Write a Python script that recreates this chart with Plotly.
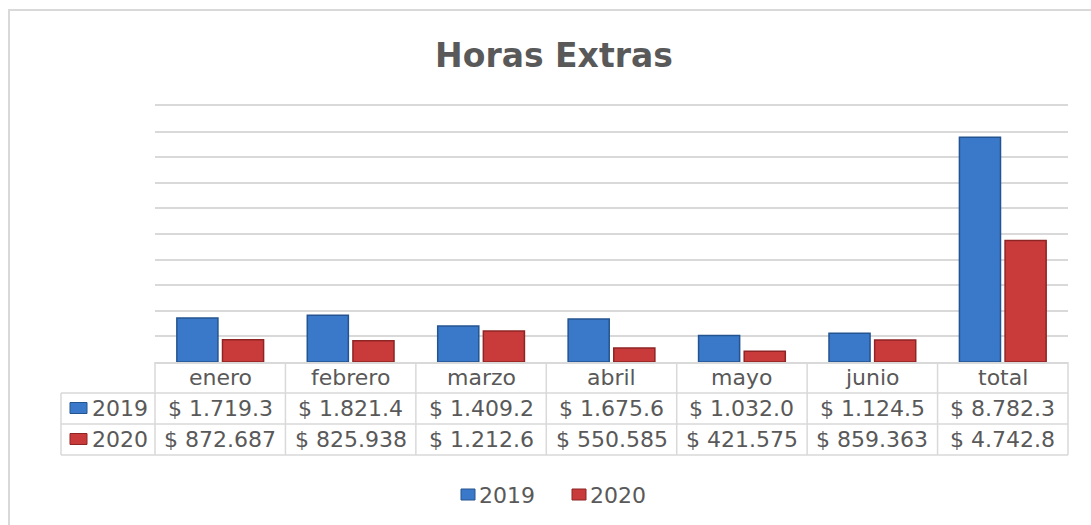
import plotly.graph_objects as go

W, H = 1091, 525

categories = ["enero", "febrero", "marzo", "abril", "mayo", "junio", "total"]
series_names = ["2019", "2020"]
# values in thousands of pesos
values_2019 = [1719.3, 1821.4, 1409.2, 1675.6, 1032.0, 1124.5, 8782.3]
values_2020 = [872.687, 825.938, 1212.6, 550.585, 421.575, 859.363, 4742.8]

colors = {"2019": "#3a78c9", "2020": "#c93b3b"}
edges = {"2019": "#24548f", "2020": "#8e2424"}
grid_color = "#d9d9d9"
text_color = "#595959"
font_family = "DejaVu Sans, sans-serif"


def px_x(p):
    return p / W


def px_y(p):
    return 1 - p / H


def fmt(v):
    if v >= 1000:
        return f"$ {int(v // 1000)}.{v % 1000:05.1f}"
    return f"$ {v:.3f}"


fig = go.Figure()
for name, vals in zip(series_names, [values_2019, values_2020]):
    fig.add_trace(go.Bar(
        x=categories,
        y=vals,
        name=name,
        marker=dict(color=colors[name], line=dict(color=edges[name], width=1.5)),
        showlegend=False,
    ))

# plot area / table geometry (pixels)
left, right = 155, 1068
top, base = 106, 362
row_h = 31
table_left = 61
col_w = (right - left) / len(categories)

shapes = []
# chart border
shapes.append(dict(type="rect", xref="paper", yref="paper",
                   x0=px_x(9), x1=1.05, y0=-0.05, y1=px_y(10),
                   line=dict(color="#d9d9d9", width=2)))
# horizontal table lines
for r in range(1, 4):
    yy = px_y(base + r * row_h)
    shapes.append(dict(type="line", xref="paper", yref="paper",
                       x0=px_x(table_left), x1=px_x(right), y0=yy, y1=yy,
                       line=dict(color=grid_color, width=1.5)))
# vertical table lines
for c in range(len(categories) + 1):
    xx = px_x(left + c * col_w)
    shapes.append(dict(type="line", xref="paper", yref="paper",
                       x0=xx, x1=xx, y0=px_y(base), y1=px_y(base + 3 * row_h),
                       line=dict(color=grid_color, width=1.5)))
shapes.append(dict(type="line", xref="paper", yref="paper",
                   x0=px_x(table_left), x1=px_x(table_left),
                   y0=px_y(base + row_h), y1=px_y(base + 3 * row_h),
                   line=dict(color=grid_color, width=1.5)))

cell_font = dict(size=22, color=text_color, family=font_family)
annotations = []
# header row
for cat in categories:
    annotations.append(dict(x=cat, xref="x", y=px_y(base + row_h / 2), yref="paper",
                            text=cat, showarrow=False, xanchor="center", yanchor="middle",
                            font=cell_font))
# value rows with legend keys
for r, (name, vals) in enumerate(zip(series_names, [values_2019, values_2020])):
    yc = base + row_h * (r + 1.5)
    shapes.append(dict(type="rect", xref="paper", yref="paper",
                       x0=px_x(70), x1=px_x(87), y0=px_y(yc + 5), y1=px_y(yc - 6),
                       fillcolor=colors[name], line=dict(color=edges[name], width=1)))
    annotations.append(dict(x=px_x(90), xref="paper", y=px_y(yc), yref="paper",
                            text=name, showarrow=False, xanchor="left", yanchor="middle",
                            font=cell_font))
    for cat, v in zip(categories, vals):
        annotations.append(dict(x=cat, xref="x", y=px_y(yc), yref="paper",
                                text=fmt(v), showarrow=False, xanchor="center",
                                yanchor="middle", font=cell_font))

# bottom legend
legend_y = 495
for name, kx in zip(series_names, [461, 572]):
    shapes.append(dict(type="rect", xref="paper", yref="paper",
                       x0=px_x(kx), x1=px_x(kx + 14), y0=px_y(legend_y + 5),
                       y1=px_y(legend_y - 6),
                       fillcolor=colors[name], line=dict(color=edges[name], width=1)))
    annotations.append(dict(x=px_x(kx + 16), xref="paper", y=px_y(legend_y), yref="paper",
                            text=name, showarrow=False, xanchor="left", yanchor="middle",
                            font=cell_font))

fig.update_layout(
    width=W, height=H,
    margin=dict(l=0, r=0, t=0, b=0),
    paper_bgcolor="white",
    plot_bgcolor="white",
    title=dict(text="<b>Horas Extras</b>", x=554 / W, xanchor="center",
               y=px_y(55), yanchor="middle",
               font=dict(size=33, color=text_color, family=font_family)),
    barmode="group",
    bargap=0.3,
    bargroupgap=0.1,
    xaxis=dict(domain=[px_x(left), px_x(right)], showticklabels=False,
               showgrid=False, zeroline=False, showline=True, mirror=True,
               linecolor=grid_color, linewidth=1.5),
    yaxis=dict(domain=[px_y(base), px_y(top)], range=[0, 10000], dtick=1000,
               showticklabels=False, showgrid=True, gridcolor=grid_color,
               gridwidth=1.5, zeroline=False, showline=False),
    shapes=shapes,
    annotations=annotations,
    showlegend=False,
)

fig.write_html("out.html", config={"displayModeBar": False},
               post_script="document.body.style.margin='0';")
